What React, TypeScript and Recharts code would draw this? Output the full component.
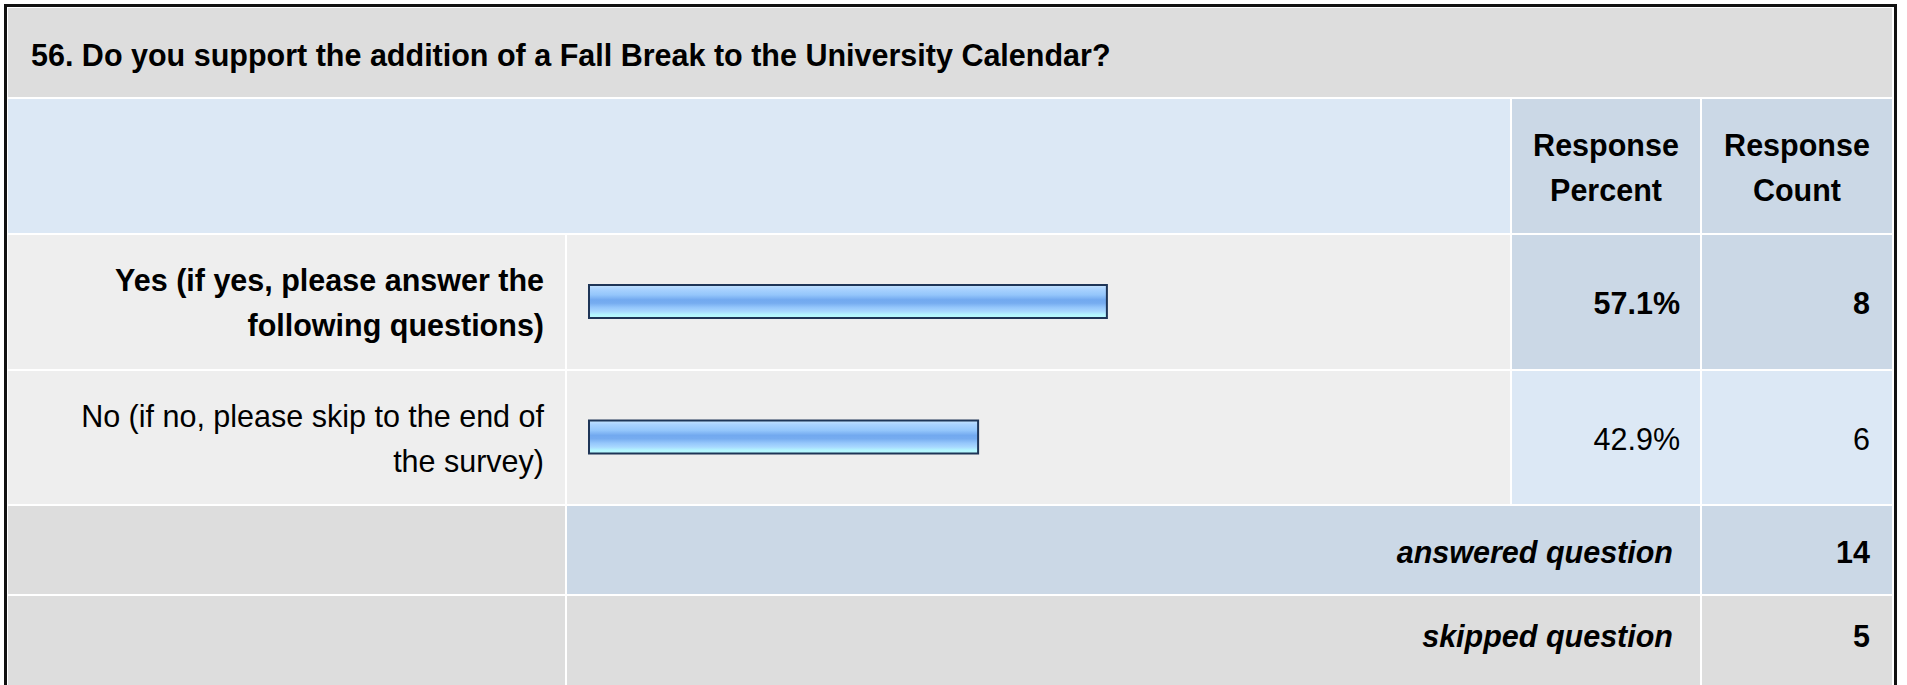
import { BarChart, Bar, XAxis, YAxis } from "recharts";

const question = "56. Do you support the addition of a Fall Break to the University Calendar?";
const choices = [
  "Yes (if yes, please answer the following questions)",
  "No (if no, please skip to the end of the survey)",
];
const responsePercent = [57.1, 42.9];
const responseCount = [8, 6];
const answeredQuestion = 14;
const skippedQuestion = 5;

const FONT = 'Arial, "Liberation Sans", Helvetica, sans-serif';
const GRAY = "#dddddd";
const ROW = "#eeeeee";
const BLUE = "#dce8f5";
const BLUE_DARK = "#cbd8e6";

const chartData = choices.map((c, i) => ({ choice: c, percent: responsePercent[i] }));
const topIndex = responsePercent.indexOf(Math.max(...responsePercent));

const Box = ({ x, y, w, h, bg }: { x: number; y: number; w: number; h: number; bg: string }) => (
  <div style={{ position: "absolute", left: x, top: y, width: w, height: h, background: bg }} />
);

const Txt = ({
  left,
  right,
  top,
  width,
  align = "right",
  bold = false,
  italic = false,
  children,
}: {
  left?: number;
  right?: number;
  top: number;
  width?: number;
  align?: "left" | "right" | "center";
  bold?: boolean;
  italic?: boolean;
  children: React.ReactNode;
}) => (
  <div
    style={{
      position: "absolute",
      left: left ?? (right !== undefined && width !== undefined ? right - width : undefined),
      top,
      width,
      textAlign: align,
      fontSize: 30.5,
      lineHeight: "45px",
      fontWeight: bold ? 700 : 400,
      fontStyle: italic ? "italic" : "normal",
      color: "#000",
      whiteSpace: width ? "normal" : "nowrap",
    }}
  >
    {children}
  </div>
);

const rowTop = [235, 371];
const rowH = [134, 133];

export default function App() {
  return (
    <div
      style={{
        position: "absolute",
        left: 0,
        top: 0,
        width: 1907,
        height: 685,
        overflow: "hidden",
        background: "#fff",
        fontFamily: FONT,
      }}
    >
      {/* outer frame */}
      <div
        style={{
          position: "absolute",
          left: 4,
          top: 4,
          width: 1887,
          height: 720,
          border: "3px solid #111",
        }}
      />

      {/* title */}
      <Box x={8} y={8} w={1884} h={89} bg={GRAY} />
      <Txt left={31} top={33} align="left" bold>
        {question}
      </Txt>

      {/* column headers */}
      <Box x={8} y={99} w={1502} h={134} bg={BLUE} />
      <Box x={1512} y={99} w={188} h={134} bg={BLUE_DARK} />
      <Box x={1702} y={99} w={190} h={134} bg={BLUE_DARK} />
      <Txt left={1512} width={188} top={123} align="center" bold>
        Response
        <br />
        Percent
      </Txt>
      <Txt left={1702} width={190} top={123} align="center" bold>
        Response
        <br />
        Count
      </Txt>

      {/* answer rows */}
      {choices.map((c, i) => {
        const hi = i === topIndex;
        const y = rowTop[i];
        const cellBg = hi ? BLUE_DARK : BLUE;
        return (
          <div key={c}>
            <Box x={8} y={y} w={557} h={rowH[i]} bg={ROW} />
            <Box x={567} y={y} w={943} h={rowH[i]} bg={ROW} />
            <Box x={1512} y={y} w={188} h={rowH[i]} bg={cellBg} />
            <Box x={1702} y={y} w={190} h={rowH[i]} bg={cellBg} />
            <Txt right={544} width={490} top={y + 23} bold={hi}>
              {c}
            </Txt>
            <Txt right={1680} width={180} top={y + 46} bold={hi}>
              {responsePercent[i].toFixed(1)}%
            </Txt>
            <Txt right={1870} width={180} top={y + 46} bold={hi}>
              {responseCount[i]}
            </Txt>
          </div>
        );
      })}

      {/* bars */}
      <div style={{ position: "absolute", left: 567, top: 234 }}>
        <BarChart
          width={943}
          height={271}
          data={chartData}
          layout="vertical"
          margin={{ top: 0, right: 14, left: 22, bottom: 0 }}
        >
          <defs>
            <linearGradient id="fallBreakBar" x1="0" y1="0" x2="0" y2="1">
              <stop offset="0%" stopColor="#c6e4ff" />
              <stop offset="12%" stopColor="#aad3ff" />
              <stop offset="30%" stopColor="#94c6fb" />
              <stop offset="45%" stopColor="#72a9ef" />
              <stop offset="55%" stopColor="#76acf0" />
              <stop offset="68%" stopColor="#94c6fb" />
              <stop offset="80%" stopColor="#a8d8ff" />
              <stop offset="90%" stopColor="#b4f6ff" />
              <stop offset="100%" stopColor="#b8faff" />
            </linearGradient>
          </defs>
          <XAxis type="number" domain={[0, 100]} hide />
          <YAxis type="category" dataKey="choice" hide />
          <Bar
            dataKey="percent"
            barSize={33}
            fill="url(#fallBreakBar)"
            stroke="#1e3557"
            strokeWidth={2}
            isAnimationActive={false}
          />
        </BarChart>
      </div>

      {/* summary rows */}
      <Box x={8} y={506} w={557} h={88} bg={GRAY} />
      <Box x={567} y={506} w={1133} h={88} bg={BLUE_DARK} />
      <Box x={1702} y={506} w={190} h={88} bg={BLUE_DARK} />
      <Txt right={1673} width={600} top={530} bold italic>
        answered question
      </Txt>
      <Txt right={1870} width={180} top={530} bold>
        {answeredQuestion}
      </Txt>

      <Box x={8} y={596} w={557} h={120} bg={GRAY} />
      <Box x={567} y={596} w={1133} h={120} bg={GRAY} />
      <Box x={1702} y={596} w={190} h={120} bg={GRAY} />
      <Txt right={1673} width={600} top={614} bold italic>
        skipped question
      </Txt>
      <Txt right={1870} width={180} top={614} bold>
        {skippedQuestion}
      </Txt>
    </div>
  );
}
